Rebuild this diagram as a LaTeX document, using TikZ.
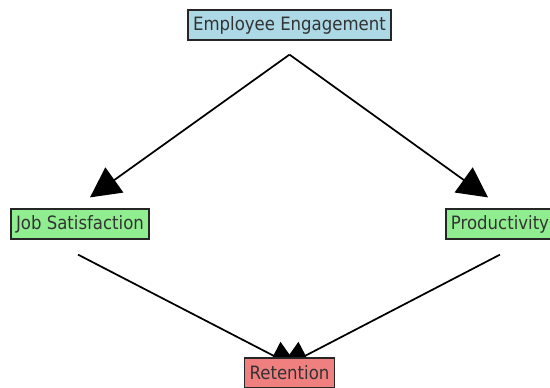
\documentclass[tikz,border=0pt]{standalone}
\usepackage{fontspec}
\setmainfont{DejaVu Sans Condensed}
\usetikzlibrary{arrows.meta,calc,backgrounds}
\definecolor{labelgray}{HTML}{333333}
\definecolor{engblue}{HTML}{ADD8E6}
\definecolor{midgreen}{HTML}{90EE90}
\definecolor{retred}{HTML}{F08080}

\begin{document}
\begin{tikzpicture}[x=.75pt,y=-.75pt,
  every node/.style={text=labelgray},
  factor/.style={draw=black!85,line width=.9pt,inner xsep=3.75pt,inner ysep=0pt,
    minimum height=22.5pt,font=\fontsize{13.8}{16}\selectfont},
  link/.style={draw=black,line width=1.3pt,-{Triangle[length=22.5pt,width=23pt]}}]
\useasboundingbox (0,0) rectangle (550,387);
% factor boxes
\node[factor,fill=engblue] (eng) at (289.5,25) {Employee Engagement};
\node[factor,fill=midgreen] (job) at (80,224) {Job Satisfaction};
\node[factor,fill=midgreen] (prod) at (500,224) {Productivity};
\node[factor,fill=retred] (ret) at (289.5,373) {Retention};
% arrow ends sit a little off the boxes
\coordinate (eng-out) at ($(eng.south)+(0,14)$);
\coordinate (job-in) at ($(job.north)+(10,-11)$);
\coordinate (prod-in) at ($(prod.north)+(-12,-11)$);
\coordinate (job-out) at ($(job.south)+(-2,15)$);
\coordinate (prod-out) at ($(prod.south)+(0,15)$);
\coordinate (ret-in-l) at ($(ret.north)+(10.5,12)$);
\coordinate (ret-in-r) at ($(ret.north)+(-10.5,12)$);
% links go under the boxes
\begin{scope}[on background layer]
\draw[link] (eng-out) -- (job-in);
\draw[link] (eng-out) -- (prod-in);
\draw[link] (job-out) -- (ret-in-l);
\draw[link] (prod-out) -- (ret-in-r);
\end{scope}
\end{tikzpicture}
\end{document}
